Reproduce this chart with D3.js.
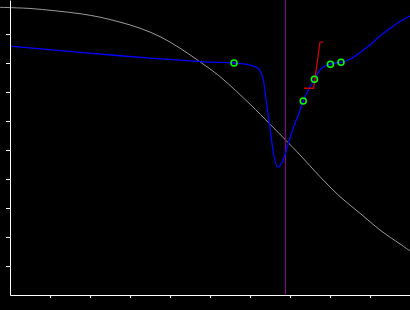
<!DOCTYPE html>
<html>
<head>
<meta charset="utf-8">
<script src="https://cdn.jsdelivr.net/npm/d3@7"></script>
<style>
  html, body { margin: 0; padding: 0; background: #000; }
  svg { display: block; }
</style>
</head>
<body>
<script>
// ---- data ----
const tickValues = [1, 2, 3, 4, 5, 6, 7, 8, 9];

const grayX = [-0.25, 0.5, 1.125, 1.75, 2.25, 2.75, 3.25, 3.75, 4.25, 4.75, 5.25, 6.0, 6.5, 6.9, 7.25, 7.75, 8.25, 8.75, 9.25, 9.75, 10.0];
const grayY = [9.92, 9.88, 9.80, 9.70, 9.58, 9.41, 9.20, 8.91, 8.51, 8.04, 7.53, 6.58, 5.89, 5.33, 4.83, 4.08, 3.39, 2.82, 2.24, 1.76, 1.52];

const blueX = [0, 1.25, 2.75, 3.575, 4.425, 5.0, 5.6, 6.0, 6.2, 6.325, 6.42, 6.5, 6.58, 6.7, 6.83, 6.96, 7.08, 7.21, 7.33, 7.46, 7.61, 7.75, 7.875, 8.01, 8.15, 8.275, 8.5, 8.75, 9.0, 9.25, 9.5, 9.75, 10.0];
const blueY = [8.58, 8.43, 8.25, 8.16, 8.08, 8.03, 8.0, 7.93, 7.82, 7.47, 6.55, 5.76, 4.94, 4.41, 4.66, 5.24, 5.76, 6.21, 6.69, 7.07, 7.44, 7.76, 7.90, 7.96, 8.0, 8.02, 8.13, 8.36, 8.62, 8.93, 9.19, 9.43, 9.62];

const redX = [7.35, 7.59, 7.75, 7.83];
const redY = [7.13, 7.13, 8.72, 8.72];

const circleX = [5.6, 7.33, 7.61, 8.01, 8.275];
const circleY = [8.0, 6.69, 7.44, 7.96, 8.03];

const markerX = [6.89];

// ---- drawing ----
const W = 410, H = 310;
const svg = d3.select("body").append("svg")
  .attr("width", W).attr("height", H)
  .style("background", "#000");

const x = d3.scaleLinear().domain([0, 10]).range([10, 410]);
const y = d3.scaleLinear().domain([0, 295 / 29]).range([295, 0]);

const zip = (xs, ys) => xs.map((v, i) => [v, ys[i]]);

// gray curve
svg.append("path")
  .datum(zip(grayX, grayY))
  .attr("fill", "none").attr("stroke", "#9a9a9a").attr("stroke-width", 1)
  .attr("d", d3.line().x(d => x(d[0])).y(d => y(d[1])).curve(d3.curveCatmullRom.alpha(0.5)));

// purple marker
svg.selectAll(".marker").data(markerX).enter().append("line")
  .attr("x1", d => Math.floor(x(d)) + 0.5).attr("x2", d => Math.floor(x(d)) + 0.5)
  .attr("y1", y.range()[1]).attr("y2", y.range()[0])
  .attr("stroke", "#8b008b").attr("stroke-width", 1);

// blue curve
svg.append("path")
  .datum(zip(blueX, blueY))
  .attr("fill", "none").attr("stroke", "#0000ff").attr("stroke-width", 1.3)
  .attr("d", d3.line().x(d => x(d[0])).y(d => y(d[1])).curve(d3.curveMonotoneX));

// red polyline
svg.append("path")
  .datum(zip(redX, redY))
  .attr("fill", "none").attr("stroke", "#cc0000").attr("stroke-width", 1.3)
  .attr("d", d3.line().x(d => x(d[0])).y(d => y(d[1])));

// green circles
svg.selectAll(".pt").data(zip(circleX, circleY)).enter().append("circle")
  .attr("cx", d => x(d[0])).attr("cy", d => y(d[1])).attr("r", 3)
  .attr("fill", "none").attr("stroke", "#00ff00").attr("stroke-width", 1.5);

// axes
const xAxis = d3.axisBottom(x).tickValues(tickValues).tickFormat(() => "").tickSize(3).tickSizeOuter(0);
const yAxis = d3.axisLeft(y).tickValues(tickValues).tickFormat(() => "").tickSize(4).tickSizeOuter(0);

const gx = svg.append("g").attr("transform", "translate(0,295)").call(xAxis);
const gy = svg.append("g").attr("transform", "translate(10,0)").call(yAxis);
[gx, gy].forEach(g => {
  g.select(".domain").attr("stroke", "#fff").attr("stroke-width", 1);
  g.selectAll(".tick line").attr("stroke", "#fff").attr("stroke-width", 1);
});
</script>
</body>
</html>
